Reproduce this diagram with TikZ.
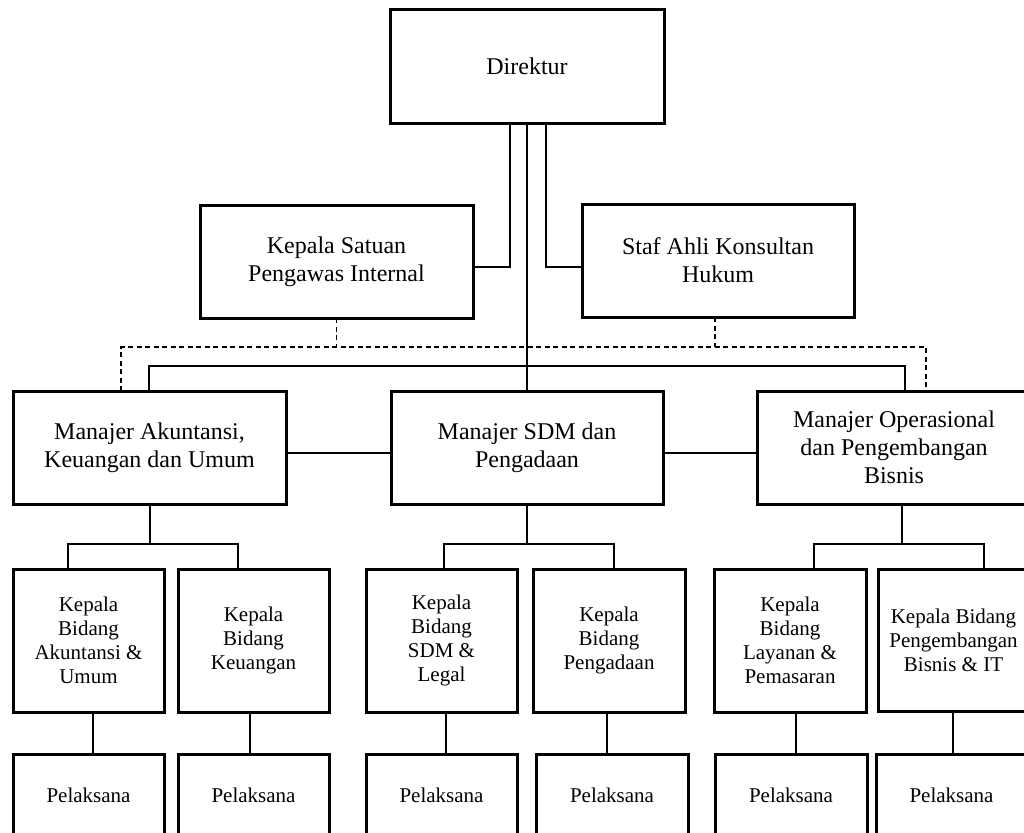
\documentclass[tikz,border=0pt]{standalone}
\usepackage{fontspec}
\setmainfont{Liberation Serif}
\begin{document}
\begin{tikzpicture}[x=1pt, y=-1pt,
  box/.style={draw, line width=3pt, inner sep=2pt, outer sep=0pt, align=center},
  big/.style={font=\fontsize{24}{28}\selectfont},
  small/.style={font=\fontsize{21}{24}\selectfont},
  wide/.style={minimum width=#1, minimum height=113pt},
  kbox/.style={minimum width=151pt, minimum height=143pt},
  pbox/.style={minimum width=151pt, minimum height=82pt},
  conn/.style={line width=1.2pt},
  dotted link/.style={line width=1.2pt, dash pattern=on 5pt off 3.5pt}]
\useasboundingbox (0,0) rectangle (1024,832);
\fill[white] (0,0) rectangle (1024,832);
\clip (0,0) rectangle (1024,832);

% top level
\node[box, big, wide=274pt] (dir) at (527,66.5) {Direktur};
\node[box, big, wide=273pt] (kspi) at (336.5,261.5) {Kepala Satuan\\Pengawas Internal};
\node[box, big, wide=272pt] (staf) at (718,260.5) {Staf Ahli Konsultan\\Hukum};

% managers
\node[box, big, wide=273pt] (mak) at (149.5,447.5) {Manajer Akuntansi,\\Keuangan dan Umum};
\node[box, big, wide=272pt] (msdm) at (527,447.5) {Manajer SDM dan\\Pengadaan};
\node[box, big, wide=274pt] (mop) at (894,447.5) {Manajer Operasional\\dan Pengembangan\\Bisnis};

% heads of division
\node[box, small, kbox] (k1) at (88.5,640.5) {Kepala\\Bidang\\Akuntansi \&\\Umum};
\node[box, small, kbox] (k2) at (253.5,640.5) {Kepala\\Bidang\\Keuangan};
\node[box, small, kbox] (k3) at (441.5,640.5) {Kepala\\Bidang\\SDM \&\\Legal};
\node[box, small, kbox, minimum width=152pt] (k4) at (609,640.5) {Kepala\\Bidang\\Pengadaan};
\node[box, small, kbox, minimum width=152pt] (k5) at (790,640.5) {Kepala\\Bidang\\Layanan \&\\Pemasaran};
\node[box, small, kbox, minimum height=142pt] (k6) at (953.5,640) {Kepala Bidang\\Pengembangan\\Bisnis \& IT};

% staff
\node[box, small, pbox] (p1) at (88.5,795) {Pelaksana};
\node[box, small, pbox] (p2) at (253.5,795) {Pelaksana};
\node[box, small, pbox] (p3) at (441.5,795) {Pelaksana};
\node[box, small, pbox, minimum width=152pt] (p4) at (612,795) {Pelaksana};
\node[box, small, pbox, minimum width=152pt] (p5) at (791,795) {Pelaksana};
\node[box, small, pbox] (p6) at (951.5,795) {Pelaksana};

% junction points
\coordinate (jL) at (510,267);
\coordinate (jR) at (546,267);
\coordinate (dbL) at (121,347);
\coordinate (dbR) at (926,347);
\coordinate (dS) at (715,347);
\coordinate (sbL) at (149,366);
\coordinate (sbR) at (905,366);
\coordinate (hm) at (0,453);
\coordinate (m1) at (150,544);
\coordinate (b1L) at (68,544);  \coordinate (b1R) at (238,544);
\coordinate (b2L) at (444,544); \coordinate (b2R) at (614,544);
\coordinate (b3L) at (814,544); \coordinate (b3R) at (984,544);
\coordinate (m3) at (902,544);

% director lines
\draw[conn] (dir.south -| jL) -- (jL) -- (kspi.east |- jL);
\draw[conn] (dir.south -| jR) -- (jR) -- (staf.west |- jR);
\draw[conn] (dir.south) -- (msdm.north);

% advisory (dashed) lines
\draw[dotted link] (kspi.south) -- (kspi.south |- dbL);
\draw[dotted link] (staf.south -| dS) -- (dS);
\draw[dotted link] (mak.north -| dbL) -- (dbL) -- (dbR) -- (mop.north -| dbR);

% line of command to the managers
\draw[conn] (mak.north -| sbL) -- (sbL) -- (sbR) -- (mop.north -| sbR);
\draw[conn] (mak.east |- hm) -- (msdm.west |- hm);
\draw[conn] (msdm.east |- hm) -- (mop.west |- hm);

% managers to heads of division
\draw[conn] (mak.south -| m1) -- (m1);
\draw[conn] (k1.north -| b1L) -- (b1L) -- (b1R) -- (k2.north -| b1R);
\draw[conn] (msdm.south) -- (msdm.south |- b2L);
\draw[conn] (k3.north -| b2L) -- (b2L) -- (b2R) -- (k4.north -| b2R);
\draw[conn] (mop.south -| m3) -- (m3);
\draw[conn] (k5.north -| b3L) -- (b3L) -- (b3R) -- (k6.north -| b3R);

% heads of division to staff
\foreach \k/\p/\x in {k1/p1/93, k2/p2/250, k3/p3/446, k4/p4/607, k5/p5/796, k6/p6/953}
  \draw[conn] (\k.south -| \x,0) -- (\p.north -| \x,0);
\end{tikzpicture}
\end{document}
